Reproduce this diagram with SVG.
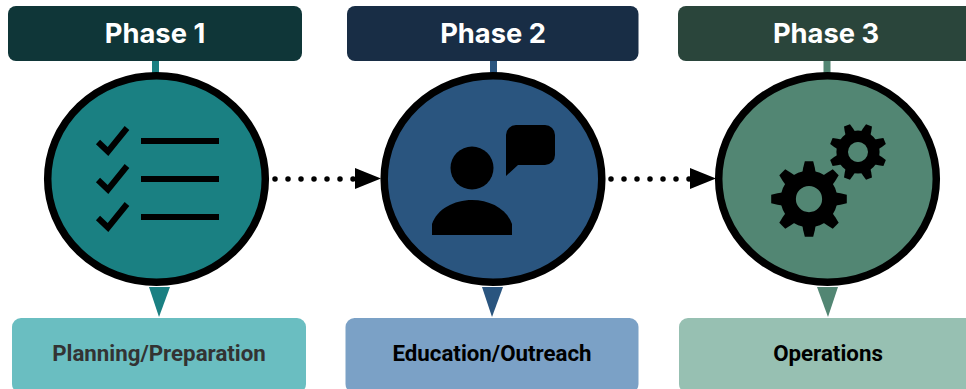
<svg xmlns="http://www.w3.org/2000/svg" width="966" height="389" viewBox="0 0 966 389">
<style>
.head{font-family:Inter,"Liberation Sans",sans-serif;font-weight:700;font-size:27.300px;fill:#fff;text-anchor:middle}
.sub{font-family:Roboto,"Liberation Sans",sans-serif;font-weight:700;font-size:22.300px;text-anchor:middle}
.disc{stroke:#000;stroke-width:7.500}
.dots{fill:none;stroke:#000;stroke-width:5.500;stroke-linecap:round;stroke-dasharray:0 13}
.tick{fill:none;stroke:#000;stroke-width:6}
.bar{stroke:#000;stroke-width:6}
</style>
<defs>
<polygon id="tooth" points="-5.500,-30 -4,-36 4,-36 5.500,-30 6.500,-24 -6.500,-24"/>
<g id="gear">
<path fill-rule="evenodd" d="M-27,0A27,27 0 1 1 27,0A27,27 0 1 1 -27,0ZM-12.500,0A12.500,12.500 0 1 0 12.500,0A12.500,12.500 0 1 0 -12.500,0Z"/>
<use href="#tooth"/><use href="#tooth" transform="rotate(45)"/><use href="#tooth" transform="rotate(90)"/><use href="#tooth" transform="rotate(135)"/><use href="#tooth" transform="rotate(180)"/><use href="#tooth" transform="rotate(225)"/><use href="#tooth" transform="rotate(270)"/><use href="#tooth" transform="rotate(315)"/>
</g>
</defs>
<rect width="966" height="389" fill="#fff"/>
<g id="connectors">
<rect x="152" y="60" width="7" height="14" fill="#1A8082"/>
<polygon points="149,287 170,287 159,317" fill="#1A8082"/>
<rect x="490" y="60" width="7" height="14" fill="#2A557F"/>
<polygon points="482,287 503,287 492,317" fill="#2A557F"/>
<rect x="823.500" y="60" width="7" height="14" fill="#528673"/>
<polygon points="817,287 838,287 828,317" fill="#528673"/>
<path class="dots" d="M275 179H356"/>
<polygon points="355,168 381,178.500 355,189"/>
<path class="dots" d="M611 179H692"/>
<polygon points="690,168 716,178.500 690,189"/>
</g>
<g id="phase1">
<rect x="8" y="6" width="294" height="55" rx="8" fill="#0F3638"/>
<text class="head" x="155" y="43">Phase 1</text>
</g>
<g id="circle1">
<ellipse class="disc" cx="156.500" cy="179" rx="108.800" ry="103.300" fill="#1A8082"/>
<path class="tick" d="M98 142L108 151.500L127 128M98 180L108 189.500L127 166M98 218L108 227.500L127 204"/>
<path class="bar" d="M141 141H219M141 179H219M141 217H219"/>
</g>
<g id="label1">
<rect x="12" y="318" width="294" height="75" rx="9" fill="#6ABEC1"/>
<text class="sub" x="159" y="361" fill="#333">Planning/Preparation</text>
</g>
<g id="phase2">
<rect x="347" y="6" width="291.500" height="55" rx="8" fill="#182D45"/>
<text class="head" x="493" y="43">Phase 2</text>
</g>
<g id="circle2">
<ellipse class="disc" cx="493" cy="179" rx="108.800" ry="103.300" fill="#2A557F"/>
<circle cx="472" cy="168" r="21.500"/>
<path d="M432 235V224C437 209 454 200 472 200C490 200 507 209 512 224V235Z"/>
<path d="M516 125H545A10 10 0 0 1 555 135V155A10 10 0 0 1 545 165H518L506 176V135A10 10 0 0 1 516 125Z"/>
</g>
<g id="label2">
<rect x="345.500" y="318" width="293" height="75" rx="9" fill="#7BA1C6"/>
<text class="sub" x="492" y="361" fill="#000">Education/Outreach</text>
</g>
<g id="phase3">
<rect x="678" y="6" width="300" height="55" rx="8" fill="#2A453B"/>
<text class="head" x="826" y="43">Phase 3</text>
</g>
<g id="circle3">
<ellipse class="disc" cx="827.500" cy="179" rx="108.800" ry="103.300" fill="#528673"/>
<use href="#gear" transform="translate(809 199) scale(1.050)"/>
<use href="#gear" transform="translate(858 152) rotate(22.500) scale(0.800)"/>
</g>
<g id="label3">
<rect x="679" y="318" width="300" height="75" rx="9" fill="#97C0B2"/>
<text class="sub" x="828" y="361" fill="#000">Operations</text>
</g>
</svg>
